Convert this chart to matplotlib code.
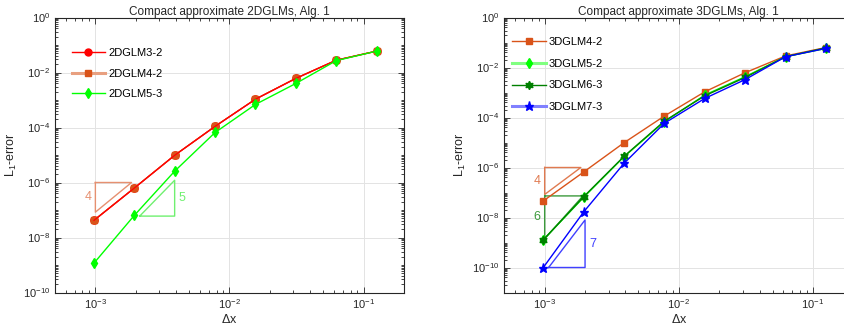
import numpy as np
import matplotlib
matplotlib.use("Agg")
import matplotlib.pyplot as plt
from matplotlib.lines import Line2D
from matplotlib.ticker import LogLocator, NullFormatter

plt.rcParams['font.family'] = ['Liberation Sans', 'DejaVu Sans']
plt.rcParams['mathtext.default'] = 'regular'
plt.rcParams['axes.unicode_minus'] = False

dx = [2**-10, 2**-9, 2**-8, 2**-7, 2**-6, 2**-5, 2**-4, 2**-3]

# Left panel: 2D
err_2d_m32 = [4.2e-8, 6.3e-7, 9.8e-6, 1.1e-4, 1.07e-3, 6.1e-3, 2.8e-2, 6.0e-2]
err_2d_m42 = [4.3e-8, 6.4e-7, 9.9e-6, 1.12e-4, 1.08e-3, 6.2e-3, 2.8e-2, 6.0e-2]
err_2d_m53 = [1.17e-9, 6.4e-8, 2.6e-6, 6.6e-5, 6.9e-4, 4.0e-3, 2.7e-2, 6.0e-2]

# Right panel: 3D
err_3d_m42 = [4.6e-8, 6.6e-7, 9.8e-6, 1.15e-4, 1.07e-3, 6.2e-3, 2.9e-2, 6.3e-2]
err_3d_m52 = [1.28e-9, 6.4e-8, 2.7e-6, 6.8e-5, 7.9e-4, 4.3e-3, 2.7e-2, 5.8e-2]
err_3d_m63 = [1.28e-9, 6.8e-8, 2.8e-6, 7.2e-5, 7.4e-4, 4.0e-3, 2.7e-2, 6.1e-2]
err_3d_m73 = [1.0e-10, 1.67e-8, 1.47e-6, 5.9e-5, 5.8e-4, 3.3e-3, 2.7e-2, 5.8e-2]

RED = '#FF0000'
ORANGE = '#D95319'
LGREEN = '#00FF00'
DGREEN = '#008000'
BLUE = '#0000FF'
HEXSTAR = (6, 1, 0)

fig = plt.figure(figsize=(8.45, 3.33), dpi=100)
W, H = 845, 333
axL = fig.add_axes([55 / W, (H - 292.5) / H, 349 / W, 275 / H])
axR = fig.add_axes([504.3 / W, (H - 292.5) / H, 349 / W, 275 / H])


def style(ax, ylo, title):
    ax.set_xscale('log')
    ax.set_yscale('log')
    ax.set_xlim(5e-4, 0.2)
    ax.set_ylim(ylo, 1)
    ax.set_xticks([1e-3, 1e-2, 1e-1])
    ax.set_yticks([10.0 ** k for k in range(-10, 1, 2)])
    ax.xaxis.set_minor_locator(LogLocator(base=10, subs=np.arange(2, 10), numticks=100))
    ax.yaxis.set_minor_locator(LogLocator(base=10, subs=np.arange(1, 10), numticks=100))
    ax.xaxis.set_minor_formatter(NullFormatter())
    ax.yaxis.set_minor_formatter(NullFormatter())
    ax.tick_params(which='both', direction='in', top=True, right=True,
                   labelsize=8, color='#262626', labelcolor='#262626', width=0.6)
    ax.tick_params(which='major', length=4)
    ax.tick_params(which='minor', length=2.2)
    ax.grid(True, which='major', color='#E3E3E3', linewidth=0.7)
    ax.set_axisbelow(True)
    for s in ax.spines.values():
        s.set_linewidth(0.8)
        s.set_color('#262626')
    ax.set_title(title, fontsize=8.5, pad=2, color='#262626')
    ax.set_xlabel(r'$\Delta$x', fontsize=9, labelpad=1, color='#262626')
    ax.set_ylabel(r'L$_1$-error', fontsize=9, labelpad=3, color='#262626')


def slope_tri(ax, x0, x1, y_anchor, p, corner, color, label, lpos):
    r = (x1 / x0) ** p
    if corner == 'tl':
        xs = [x0, x1, x0, x0]
        ys = [y_anchor, y_anchor, y_anchor / r, y_anchor]
        lx, ly = x0, np.sqrt(y_anchor * y_anchor / r)
    else:
        xs = [x0, x1, x1, x0]
        ys = [y_anchor, y_anchor, y_anchor * r, y_anchor]
        lx, ly = x1, np.sqrt(y_anchor * y_anchor * r)
    ax.plot(xs, ys, color=color, linewidth=1.0, zorder=2)
    off = (-3, 0) if lpos == 'left' else (3, 0)
    ax.annotate(label, (lx, ly), xytext=off, textcoords='offset points',
                ha='right' if lpos == 'left' else 'left', va='center',
                color=color, fontsize=9)


# ---------- Left panel ----------
style(axL, 1e-10, 'Compact approximate 2DGLMs, Alg. 1')
axL.plot(dx, err_2d_m32, '-o', color=RED, mfc='#E8401C', mec='#E8401C', ms=5.5, lw=1.0, zorder=3)
axL.plot(dx, err_2d_m42, '-s', color=ORANGE, mfc=ORANGE, mec=ORANGE, ms=4, lw=0.8, zorder=3)
axL.plot(dx, err_2d_m32, '-', color=RED, lw=0.9, zorder=3)
axL.plot(dx, err_2d_m53, '-d', color=LGREEN, mfc=LGREEN, mec=LGREEN, ms=5.5, lw=1.0, zorder=3)
slope_tri(axL, 1e-3, 1.86e-3, 1e-6, 4, 'tl', '#E69070', '4', 'left')
slope_tri(axL, 2.14e-3, 3.9e-3, 6e-8, 5, 'br', '#70F070', '5', 'right')

hL = [Line2D([], [], color=RED, marker='o', mfc=RED, mec=RED, ms=5, lw=1.0),
      Line2D([], [], color='#E8A080', marker='s', mfc=ORANGE, mec=ORANGE, ms=4.5, lw=2.2),
      Line2D([], [], color=LGREEN, marker='d', mfc=LGREEN, mec=LGREEN, ms=5.5, lw=1.0)]
axL.legend(hL, ['2DGLM3-2', '2DGLM4-2', '2DGLM5-3'], loc='upper left',
           bbox_to_anchor=(0.035, 0.905), frameon=False, fontsize=8,
           handlelength=3.0, handletextpad=0.3, labelspacing=0.95, borderaxespad=0)

# ---------- Right panel ----------
style(axR, 1e-11, 'Compact approximate 3DGLMs, Alg. 1')
axR.plot(dx, err_3d_m42, '-s', color=ORANGE, mfc=ORANGE, mec=ORANGE, ms=4.5, lw=1.0, zorder=3)
axR.plot(dx, err_3d_m52, '-d', color=LGREEN, mfc=LGREEN, mec=LGREEN, ms=5.5, lw=1.0, zorder=3)
axR.plot(dx, err_3d_m63, '-', marker=HEXSTAR, color=DGREEN, mfc=DGREEN, mec=DGREEN, ms=6, lw=1.0, zorder=3)
axR.plot(dx, err_3d_m73, '-*', color=BLUE, mfc=BLUE, mec=BLUE, ms=6.5, lw=1.0, zorder=3)
slope_tri(axR, 1e-3, 1.86e-3, 1e-6, 4, 'tl', '#E07A50', '4', 'left')
slope_tri(axR, 1e-3, 1.93e-3, 7.3e-8, 6, 'tl', '#3C9A3C', '6', 'left')
slope_tri(axR, 1.07e-3, 2.0e-3, 1e-10, 7, 'br', '#4040FF', '7', 'right')

hR = [Line2D([], [], color=ORANGE, marker='s', mfc=ORANGE, mec=ORANGE, ms=4.5, lw=1.0),
      Line2D([], [], color='#80FF80', marker='d', mfc=LGREEN, mec=LGREEN, ms=5.5, lw=2.2),
      Line2D([], [], color=DGREEN, marker=HEXSTAR, mfc=DGREEN, mec=DGREEN, ms=6, lw=1.0),
      Line2D([], [], color='#8080FF', marker='*', mfc=BLUE, mec=BLUE, ms=6.5, lw=2.2)]
axR.legend(hR, ['3DGLM4-2', '3DGLM5-2', '3DGLM6-3', '3DGLM7-3'], loc='upper left',
           bbox_to_anchor=(0.01, 0.945), frameon=False, fontsize=8,
           handlelength=3.0, handletextpad=0.3, labelspacing=1.05, borderaxespad=0)

fig.savefig('out.png', dpi=100)
